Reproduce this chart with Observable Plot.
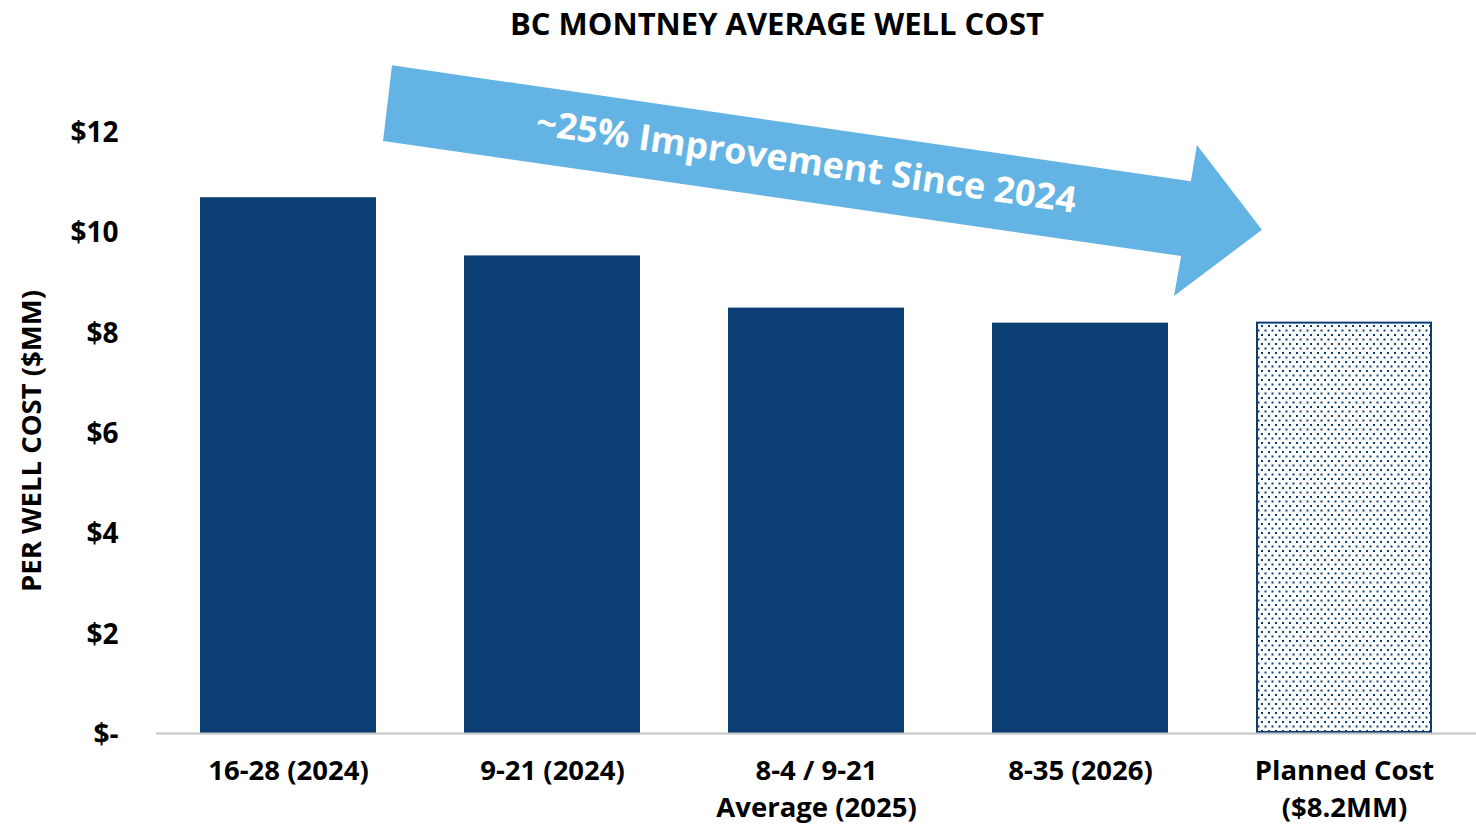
<!DOCTYPE html>
<html><head><meta charset="utf-8">
<script src="https://cdn.jsdelivr.net/npm/d3@7"></script>
<script src="https://cdn.jsdelivr.net/npm/@observablehq/plot@0.6"></script>
<style>
body{margin:0;background:#fff;font-family:"Open Sans",Lato,sans-serif;}
#title{height:45px;line-height:46px;padding-left:78px;width:1398px;text-align:center;font-weight:700;font-size:31px;color:#000;letter-spacing:0px;}
#chart svg{display:block;}
</style></head><body>
<div id="title">BC MONTNEY AVERAGE WELL COST</div>
<div id="chart"></div>
<script>
// Data
const categories = ["16-28 (2024)", "9-21 (2024)", "8-4 / 9-21\nAverage (2025)", "8-35 (2026)", "Planned Cost\n($8.2MM)"];
const values = [10.68, 9.52, 8.48, 8.18, 8.2];
const planned = [false, false, false, false, true];
const yTicks = [0, 2, 4, 6, 8, 10, 12];
const yLabel = "PER WELL COST ($MM)";
const arrowText = "~25% Improvement Since 2024";
// arrow outline: category-index position and $ value
const arrowIdx = [0.394, 3.42, 3.443, 3.689, 3.356, 3.383, 0.36];
const arrowVal = [13.31, 11.0, 11.72, 10.03, 8.71, 9.51, 11.8];
const arrowLabelIdx = 1.962, arrowLabelVal = 11.34, arrowAngle = 8.26;

const rows = categories.map((c, i) => ({cat: c, value: values[i], planned: planned[i]}));
const navy = "#0b3f74";
const font = "'Open Sans', Lato, sans-serif";

const arrowMark = (index, scales, vals, dims) => {
  const x = scales.x, y = scales.y;
  const step = x(categories[1]) - x(categories[0]);
  const bw = x.bandwidth ? x.bandwidth() : step * 2 / 3;
  const cx = i => x(categories[0]) + bw / 2 + i * step;
  const g = d3.create("svg:g");
  g.append("polygon")
    .attr("points", arrowIdx.map((d, i) => cx(d) + "," + y(arrowVal[i])).join(" "))
    .attr("fill", "#63b4e4");
  g.append("text")
    .attr("transform", `translate(${cx(arrowLabelIdx)},${y(arrowLabelVal)}) rotate(${arrowAngle})`)
    .attr("text-anchor", "middle").attr("dominant-baseline", "middle")
    .attr("fill", "#fff").attr("font-size", 36).attr("font-weight", 700)
    .attr("font-family", font)
    .text(arrowText);
  return g.node();
};

const yLabelMark = (index, scales, vals, dims) => {
  const cy = (dims.marginTop + dims.height - dims.marginBottom) / 2 + 9;
  const t = d3.create("svg:text")
    .attr("transform", `translate(${dims.marginLeft - 122},${cy}) rotate(-90)`)
    .attr("text-anchor", "middle").attr("dominant-baseline", "middle")
    .attr("font-size", 27.5).attr("font-weight", 700).attr("font-family", font).attr("fill", "#000")
    .text(yLabel);
  return t.node();
};

const chart = Plot.plot({
  width: 1476, height: 784,
  marginLeft: 156, marginRight: 0, marginTop: 86, marginBottom: 96,
  style: {fontFamily: font, fontSize: "28px", fontWeight: 700, color: "#000", background: "#fff"},
  x: {domain: categories, paddingInner: 1/3, paddingOuter: 1/6, label: null},
  y: {domain: [0, 12], label: null},
  marks: [
    Plot.barY(rows.filter(d => !d.planned), {x: "cat", y: "value", fill: navy}),
    Plot.barY(rows.filter(d => d.planned), {x: "cat", y: "value", fill: "url(#dots)", stroke: navy, strokeWidth: 2, inset: 1}),
    Plot.ruleY([0], {stroke: "#c4c4c4", strokeWidth: 2}),
    Plot.axisY({ticks: yTicks, tickFormat: d => d === 0 ? "$-" : "$" + d, tickSize: 0, tickPadding: 38, dy: 1.5, label: null, fontSize: 28}),
    Plot.axisX({tickSize: 0, tickPadding: 20, lineHeight: 1.36, label: null, fontSize: 27.5}),
    arrowMark,
    yLabelMark
  ]
});

const svg = d3.select(chart);
const defs = svg.insert("defs", ":first-child");
const pat = defs.append("pattern").attr("id", "dots").attr("patternUnits", "userSpaceOnUse")
  .attr("width", 7).attr("height", 9);
pat.append("rect").attr("width", 7).attr("height", 9).attr("fill", "#fff");
pat.append("rect").attr("x", 1).attr("y", 1).attr("width", 2).attr("height", 2).attr("fill", navy);
pat.append("rect").attr("x", 4.5).attr("y", 5.5).attr("width", 2).attr("height", 2).attr("fill", navy);

document.getElementById("chart").appendChild(chart);
</script>
</body></html>
